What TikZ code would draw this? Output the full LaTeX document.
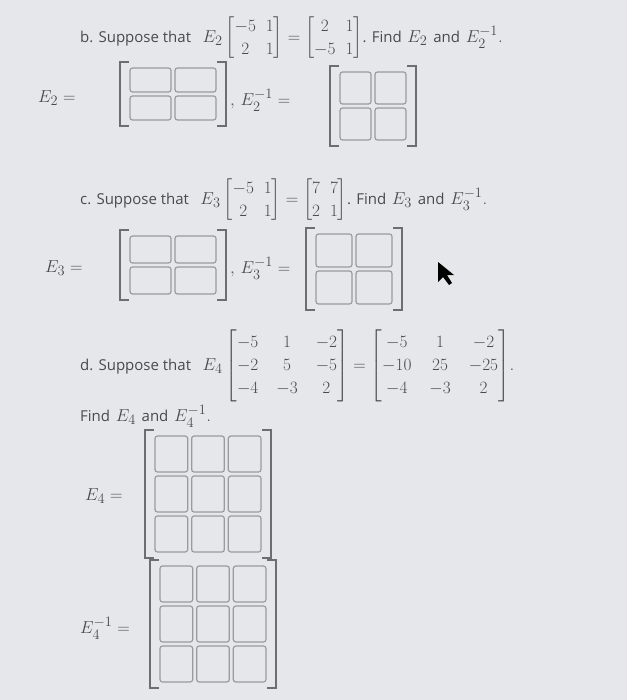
\documentclass[tikz,border=0pt]{standalone}
\usepackage{amsmath}
\usepackage{fontspec}
\newfontfamily\osans{Open Sans}
\definecolor{bgc}{HTML}{E6E7EA}
\definecolor{ink}{HTML}{4A4A4E}
\definecolor{boxc}{HTML}{9A9AA0}
\newcommand\tx[1]{{\osans\fontsize{15}{18}\selectfont #1}}
\tikzset{
 mth/.style={font=\fontsize{19}{23}\selectfont, text=ink, inner sep=0pt},
 brk/.style={draw=ink!80, line width=1.1pt},
 cell/.style={draw=boxc, line width=1.2pt, rounded corners=2.5pt}
}
\newcommand\boxmat[6]{%
 \draw[brk] (#1+9,#2) -- (#1,#2) -- (#1,#2+#4) -- (#1+9,#2+#4);
 \draw[brk] (#1+#3-9,#2) -- (#1+#3,#2) -- (#1+#3,#2+#4) -- (#1+#3-9,#2+#4);
 \pgfmathsetmacro\cw{(#3-16)/#5}\pgfmathsetmacro\ch{(#4-8)/#6}
 \foreach \i in {1,...,#5}{\foreach \j in {1,...,#6}{
   \draw[cell] (#1+8+\i*\cw-\cw+2, #2+4+\j*\ch-\ch+2) rectangle ++(\cw-4,\ch-4);}}%
}
\begin{document}
\begin{tikzpicture}[x=1pt,y=-1pt]
\fill[bgc] (0,0) rectangle (627,700);
\useasboundingbox (0,0) rectangle (627,700);
% b
\node[mth,anchor=west] (bl) at (80,38) {\tx{b. Suppose that}\ \ $E_2\begin{bmatrix}-5&1\\2&1\end{bmatrix}=\begin{bmatrix}2&1\\-5&1\end{bmatrix}$\tx{. Find} $E_2$ \tx{and} $E_2^{-1}$.};
\node[mth,anchor=west] (b1) at (38,98) {$E_2 =$};
\boxmat{120}{62}{106}{64}{2}{2}
\node[mth,anchor=west] (b2) at (230,100) {$,\,E_2^{-1} =$};
\boxmat{330}{66}{86}{80}{2}{2}
% c
\node[mth,anchor=west] (cl) at (80,200) {\tx{c. Suppose that}\ \ $E_3\begin{bmatrix}-5&1\\2&1\end{bmatrix}=\begin{bmatrix}7&7\\2&1\end{bmatrix}$\tx{. Find} $E_3$ \tx{and} $E_3^{-1}$.};
\node[mth,anchor=west] (c1) at (45,268) {$E_3 =$};
\boxmat{120}{230}{106}{70}{2}{2}
\node[mth,anchor=west] (c2) at (230,268) {$,\,E_3^{-1} =$};
\boxmat{306}{228}{96}{82}{2}{2}
% d
{\arraycolsep=9pt
\node[mth,anchor=west] (dl) at (80,366) {\tx{d. Suppose that}\ \ $E_4\begin{bmatrix}-5&1&-2\\-2&5&-5\\-4&-3&2\end{bmatrix}=\begin{bmatrix}-5&1&-2\\-10&25&-25\\-4&-3&2\end{bmatrix}$.};}
\node[mth,anchor=west] (df) at (80,416) {\tx{Find} $E_4$ \tx{and} $E_4^{-1}$.};
\node[mth,anchor=west] (d1) at (85,496) {$E_4 =$};
\boxmat{145}{430}{126}{128}{3}{3}
\node[mth,anchor=west] (d2) at (80,628) {$E_4^{-1} =$};
\boxmat{150}{560}{126}{128}{3}{3}
% cursor
\fill[black] (438,262) -- (438,282) -- (443,277) -- (449,285) -- (452,283) -- (447,275) -- (454,275) -- cycle;
\end{tikzpicture}
\end{document}
